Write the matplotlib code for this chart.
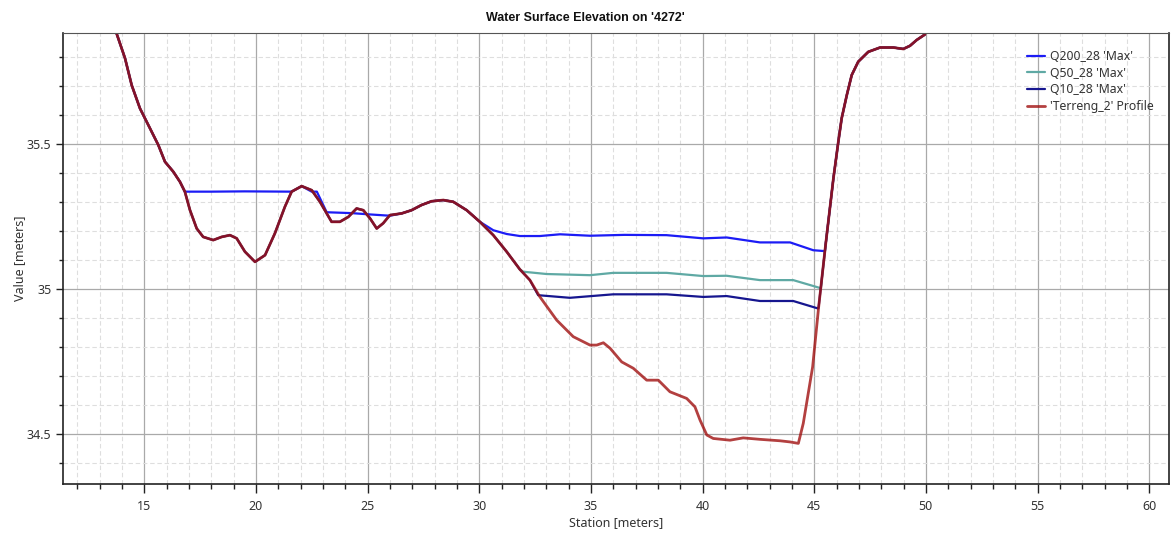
import numpy as np
import matplotlib
matplotlib.use('Agg')
import matplotlib.pyplot as plt
from matplotlib.ticker import MultipleLocator, FuncFormatter

plt.rcParams['font.family'] = ['Noto Sans', 'DejaVu Sans']

# ground profile along the cut line (station, elevation)
terrain_x = np.array([13.76, 14.14, 14.44, 14.81, 15.26, 15.63, 15.93, 16.30, 16.60, 16.82, 17.05,
                      17.35, 17.64, 18.09, 18.47, 18.84, 19.14, 19.51, 19.96, 20.41, 20.85,
                      21.30, 21.60, 22.05, 22.50, 22.87, 23.17, 23.39, 23.76, 24.14, 24.51,
                      24.81, 25.11, 25.41, 25.70, 26.00, 26.53, 26.97, 27.42, 27.87, 28.39,
                      28.84, 29.44, 30.03, 30.63, 31.23, 31.82, 32.27, 32.72, 33.47, 34.21,
                      34.96, 35.26, 35.56, 35.86, 36.38, 36.90, 37.50, 38.02, 38.54, 39.29,
                      39.66, 39.89, 40.19, 40.48, 41.23, 41.82, 42.57, 43.47, 43.92, 44.29,
                      44.51, 44.93, 45.20, 45.50, 45.86, 46.08, 46.23, 46.46, 46.68, 46.97,
                      47.42, 47.95, 48.54, 48.99, 49.29, 49.59, 49.96])
terrain_y = np.array([35.882, 35.796, 35.703, 35.623, 35.554, 35.497, 35.439, 35.405, 35.370, 35.336, 35.272,
                      35.209, 35.180, 35.169, 35.180, 35.186, 35.175, 35.129, 35.094, 35.117, 35.192,
                      35.284, 35.336, 35.355, 35.341, 35.301, 35.261, 35.232, 35.232, 35.249, 35.278,
                      35.272, 35.244, 35.209, 35.227, 35.255, 35.261, 35.272, 35.290, 35.303, 35.307,
                      35.301, 35.272, 35.232, 35.186, 35.129, 35.068, 35.031, 34.973, 34.893, 34.836,
                      34.807, 34.807, 34.815, 34.796, 34.749, 34.727, 34.686, 34.686, 34.646, 34.623,
                      34.594, 34.548, 34.497, 34.485, 34.479, 34.487, 34.482, 34.477, 34.473, 34.468,
                      34.537, 34.732, 34.939, 35.146, 35.382, 35.508, 35.589, 35.669, 35.738, 35.784,
                      35.818, 35.833, 35.833, 35.828, 35.839, 35.859, 35.878])

# wet stretches of each max water surface
q200_pool1_x = [16.82, 18.0, 19.5, 21.60]
q200_pool1_y = [35.336, 35.336, 35.337, 35.336]
q200_pool2_x = [22.50, 22.73, 23.17, 24.29, 25.00, 26.00]
q200_pool2_y = [35.336, 35.336, 35.265, 35.262, 35.258, 35.253]
q200_pool3_x = [30.03, 30.63, 31.23, 31.82, 32.72, 33.62, 34.96, 36.50, 38.39, 40.03,
                41.08, 42.57, 43.92, 44.96, 45.48]
q200_pool3_y = [35.232, 35.203, 35.190, 35.183, 35.183, 35.189, 35.184, 35.187, 35.186, 35.175,
                35.178, 35.161, 35.161, 35.134, 35.131]

q50_x = [31.97, 33.02, 34.96, 36.00, 38.39, 40.03, 41.08, 42.57, 44.06, 45.30]
q50_y = [35.060, 35.052, 35.048, 35.056, 35.056, 35.045, 35.046, 35.031, 35.031, 35.003]

q10_x = [32.64, 34.06, 36.00, 38.39, 40.03, 41.08, 42.57, 44.06, 45.18]
q10_y = [34.979, 34.970, 34.982, 34.982, 34.973, 34.976, 34.959, 34.959, 34.933]

labels = ["Q200_28 'Max'", "Q50_28 'Max'", "Q10_28 'Max'", "'Terreng_2' Profile"]
colors = ['#1c1cf5', '#5fa9a4', '#16168f', '#a01010']


def ground(x0, x1):
    """terrain points strictly between two stations (dry part of a profile)"""
    m = (terrain_x > x0) & (terrain_x < x1)
    return list(terrain_x[m]), list(terrain_y[m])


def profile(pieces):
    """join wet pieces with the ground in between, ground outside"""
    xs, ys = [], []
    prev = -np.inf
    for px, py in pieces:
        gx, gy = ground(prev, px[0])
        xs += gx + list(px)
        ys += gy + list(py)
        prev = px[-1]
    gx, gy = ground(prev, np.inf)
    return xs + gx, ys + gy


q200 = profile([(q200_pool1_x, q200_pool1_y), (q200_pool2_x, q200_pool2_y),
                (q200_pool3_x, q200_pool3_y)])
q50 = profile([(q50_x, q50_y)])
q10 = profile([(q10_x, q10_y)])

W, H = 1172, 538
fig = plt.figure(figsize=(W / 100, H / 100), dpi=100)
ax = fig.add_axes([62.7 / W, 1 - 484 / H, (1169.3 - 62.7) / W, (484 - 33.3) / H])

for (xs, ys), c, lab in zip([q200, q50, q10], colors[:3], labels[:3]):
    ax.plot(xs, ys, color=c, lw=1.6, label=lab, solid_capstyle='round', solid_joinstyle='round')
ax.plot(terrain_x, terrain_y, color=colors[3], lw=2.0, alpha=0.8, label=labels[3],
        solid_capstyle='round', solid_joinstyle='round')

ax.set_xlim(11.35, 60.9)
ax.set_ylim(34.328, 35.882)
ax.xaxis.set_major_locator(MultipleLocator(5))
ax.xaxis.set_minor_locator(MultipleLocator(1))
ax.yaxis.set_major_locator(MultipleLocator(0.5))
ax.yaxis.set_minor_locator(MultipleLocator(0.1))
ax.yaxis.set_major_formatter(FuncFormatter(lambda v, p: '%g' % v))

ax.set_axisbelow(True)
ax.grid(which='major', color='#a9a9a9', lw=0.9)
ax.grid(which='minor', color='#dedede', lw=0.8, ls=(0, (4, 2.5)))

ax.tick_params(axis='x', which='major', length=6.5, width=1.0, pad=5, color='#222222',
               labelsize=9, labelcolor='#333333')
ax.tick_params(axis='x', which='minor', length=3.5, width=1.0, color='#222222')
ax.tick_params(axis='y', which='major', length=5, width=1.0, pad=3, color='#222222',
               labelsize=9, labelcolor='#333333')
ax.tick_params(axis='y', which='minor', length=3, width=1.0, color='#222222')
for side in ['left', 'bottom', 'right']:
    ax.spines[side].set_color('#222222')
    ax.spines[side].set_linewidth(1.2)
ax.spines['top'].set_color('#555555')

ax.set_xlabel('Station [meters]', fontsize=9, color='#333333', labelpad=2)
ax.set_ylabel('Value [meters]', fontsize=9, color='#333333', labelpad=1)
fig.text(585 / W, 1 - 18 / H, "Water Surface Elevation on '4272'", ha='center', va='center',
         fontsize=9, fontweight='bold', color='#111111',
         family=['Liberation Sans', 'DejaVu Sans'])

ax.legend(loc='upper right', bbox_to_anchor=(1154 / W, 1 - 50 / H), bbox_transform=fig.transFigure,
          frameon=False, fontsize=8.8, handlelength=1.5, handletextpad=0.4, labelspacing=0.3,
          borderaxespad=0, borderpad=0, labelcolor='#333333')

fig.savefig('out.png', dpi=100, facecolor='white')
